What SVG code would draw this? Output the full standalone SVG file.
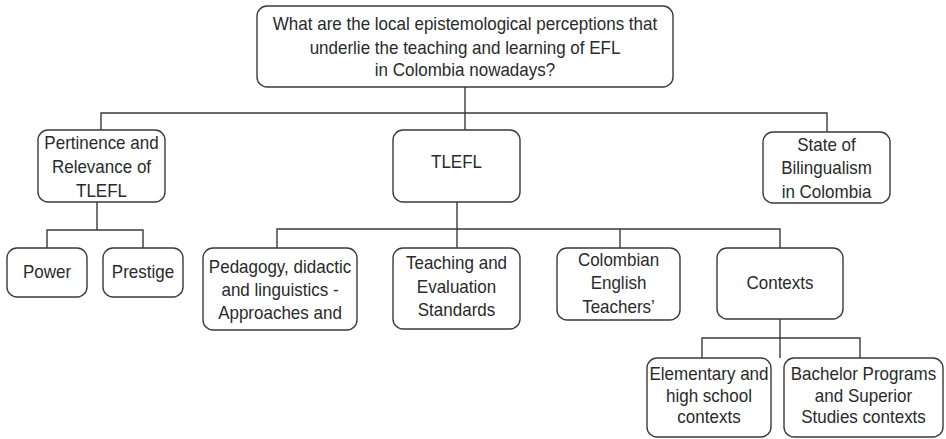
<svg xmlns="http://www.w3.org/2000/svg" width="946" height="439" viewBox="0 0 946 439">
<style>
.box{fill:#fff;stroke:#3a3a3a;stroke-width:1.4}
.lbl{font-family:"Liberation Sans",Arial,sans-serif;font-size:17px;fill:#2a2a2a;text-anchor:middle}
.conn{fill:none;stroke:#3a3a3a;stroke-width:1.4}
</style>
<rect width="946" height="439" fill="#fff"/>
<g id="connectors" class="conn">
<path d="M465,87V130"/>
<path d="M101,130V113H827V132"/>
<path d="M97,202V230"/>
<path d="M47,248V230H143V248"/>
<path d="M457,202V248"/>
<path d="M277,248V229H780V248"/>
<path d="M620,229V248"/>
<path d="M780,319V358"/>
<path d="M702,358V338H860V358"/>
</g>
<g id="root">
<rect class="box" x="257" y="6" width="416" height="81" rx="10"/>
<text class="lbl" transform="translate(465,30) scale(1,1.1)">What are the local epistemological perceptions that</text>
<text class="lbl" transform="translate(465,54) scale(1,1.1)">underlie the teaching and learning of EFL</text>
<text class="lbl" transform="translate(465,76) scale(1,1.1)">in Colombia nowadays?</text>
</g>
<g id="pertinence">
<rect class="box" x="38" y="130" width="127" height="72" rx="10"/>
<text class="lbl" transform="translate(101.5,149) scale(1,1.1)">Pertinence and</text>
<text class="lbl" transform="translate(101.5,173) scale(1,1.1)">Relevance of</text>
<text class="lbl" transform="translate(101.5,197) scale(1,1.1)">TLEFL</text>
</g>
<g id="tlefl">
<rect class="box" x="393" y="130" width="127" height="72" rx="10"/>
<text class="lbl" transform="translate(456.5,168) scale(1,1.1)">TLEFL</text>
</g>
<g id="state">
<rect class="box" x="763" y="132" width="127" height="71" rx="10"/>
<text class="lbl" transform="translate(826.5,151) scale(1,1.1)">State of</text>
<text class="lbl" transform="translate(826.5,174) scale(1,1.1)">Bilingualism</text>
<text class="lbl" transform="translate(826.5,198) scale(1,1.1)">in Colombia</text>
</g>
<g id="power">
<rect class="box" x="7" y="248" width="80" height="49" rx="10"/>
<text class="lbl" transform="translate(47,278) scale(1,1.1)">Power</text>
</g>
<g id="prestige">
<rect class="box" x="103" y="248" width="80" height="49" rx="10"/>
<text class="lbl" transform="translate(143,278) scale(1,1.1)">Prestige</text>
</g>
<g id="pedagogy">
<rect class="box" x="203" y="248" width="154" height="82" rx="10"/>
<text class="lbl" transform="translate(280,273) scale(1,1.1)">Pedagogy, didactic</text>
<text class="lbl" transform="translate(280,296) scale(1,1.1)">and linguistics -</text>
<text class="lbl" transform="translate(280,319) scale(1,1.1)">Approaches and</text>
</g>
<g id="teaching">
<rect class="box" x="393" y="248" width="127" height="81" rx="10"/>
<text class="lbl" transform="translate(456.5,269) scale(1,1.1)">Teaching and</text>
<text class="lbl" transform="translate(456.5,293) scale(1,1.1)">Evaluation</text>
<text class="lbl" transform="translate(456.5,316) scale(1,1.1)">Standards</text>
</g>
<g id="colombian">
<rect class="box" x="557" y="248" width="123" height="72" rx="10"/>
<text class="lbl" transform="translate(618.5,266) scale(1,1.1)">Colombian</text>
<text class="lbl" transform="translate(618.5,289) scale(1,1.1)">English</text>
<text class="lbl" transform="translate(618.5,313) scale(1,1.1)">Teachers’</text>
</g>
<g id="contexts">
<rect class="box" x="717" y="248" width="126" height="71" rx="10"/>
<text class="lbl" transform="translate(780,289) scale(1,1.1)">Contexts</text>
</g>
<g id="elementary">
<rect class="box" x="647" y="358" width="124" height="79" rx="10"/>
<text class="lbl" transform="translate(709,380) scale(1,1.1)">Elementary and</text>
<text class="lbl" transform="translate(709,402) scale(1,1.1)">high school</text>
<text class="lbl" transform="translate(709,423) scale(1,1.1)">contexts</text>
</g>
<g id="bachelor">
<rect class="box" x="784" y="358" width="159" height="79" rx="10"/>
<text class="lbl" transform="translate(863.5,380) scale(1,1.1)">Bachelor Programs</text>
<text class="lbl" transform="translate(863.5,402) scale(1,1.1)">and Superior</text>
<text class="lbl" transform="translate(863.5,423) scale(1,1.1)">Studies contexts</text>
</g>
</svg>
